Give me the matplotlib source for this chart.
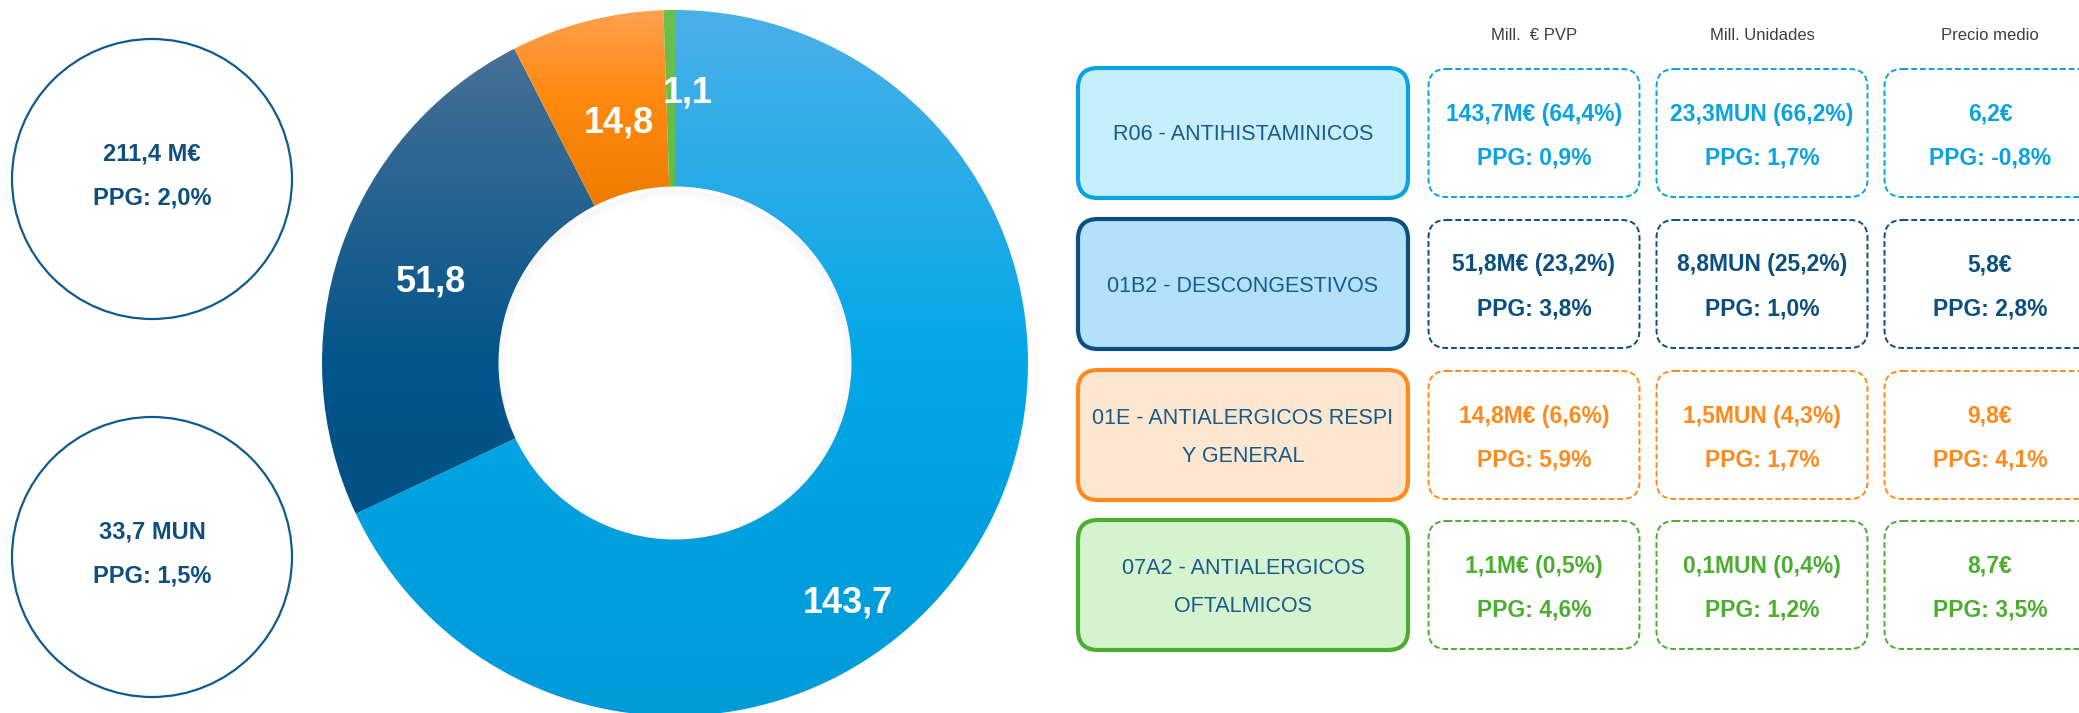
import numpy as np
import matplotlib
matplotlib.use('Agg')
import matplotlib.pyplot as plt
from matplotlib.patches import FancyBboxPatch, Circle
from matplotlib.colors import LinearSegmentedColormap

# data
categories = ['R06 - ANTIHISTAMINICOS', '01B2 - DESCONGESTIVOS',
              '01E - ANTIALERGICOS RESPI\nY GENERAL', '07A2 - ANTIALERGICOS\nOFTALMICOS']
eur = [143.7, 51.8, 14.8, 1.1]
eur_share = [64.4, 23.2, 6.6, 0.5]
eur_ppg = [0.9, 3.8, 5.9, 4.6]
units = [23.3, 8.8, 1.5, 0.1]
units_share = [66.2, 25.2, 4.3, 0.4]
units_ppg = [1.7, 1.0, 1.7, 1.2]
price = [6.2, 5.8, 9.8, 8.7]
price_ppg = [-0.8, 2.8, 4.1, 3.5]
total_eur, total_eur_ppg = 211.4, 2.0
total_units, total_units_ppg = 33.7, 1.5
headers = ['Mill.  € PVP', 'Mill. Unidades', 'Precio medio']

# style
edge_colors = ['#0AA2E0', '#0B4F80', '#FF8A1C', '#4BAE2F']
fill_colors = ['#C6EFFE', '#B3E1FB', '#FDE7D0', '#D6F3D0']
grad_stops = [
    [(0.0, '#009AD9'), (0.5, '#03A7E7'), (1.0, '#4AB0E8')],
    [(0.0, '#004A7E'), (0.5, '#03558B'), (1.0, '#4F7397')],
    [(0.0, '#EC7C00'), (0.74, '#EE7D00'), (0.88, '#FF8A10'), (1.0, '#FFA050')],
    [(0.0, '#44B02F'), (1.0, '#6CC04C')],
]
label_xy = [(0.49, -0.68), (-0.69, 0.23), (-0.16, 0.68), (0.035, 0.765)]
navy = '#0E4F7F'
cat_text = '#175A8B'

plt.rcParams['font.family'] = ['Liberation Sans', 'DejaVu Sans']


def fmt(v):
    return '{:.1f}'.format(v).replace('.', ',')


W, H = 2079, 713
fig = plt.figure(figsize=(W / 100, H / 100), dpi=100)

# donut
cx, cy, R = 675, 363, 353
dax = fig.add_axes([(cx - R) / W, (H - cy - R) / H, 2 * R / W, 2 * R / H])
wedges, _ = dax.pie(eur, startangle=90, counterclock=False, radius=1,
                    wedgeprops=dict(width=0.5, linewidth=0))
grad = np.linspace(0, 1, 256).reshape(-1, 1)
for w, stops in zip(wedges, grad_stops):
    w.set_facecolor('none')
    cmap = LinearSegmentedColormap.from_list('g', stops)
    im = dax.imshow(grad, extent=(-1, 1, -1, 1), origin='lower', cmap=cmap,
                    aspect='auto', zorder=1)
    im.set_clip_path(w)
# faint shadow cast into the hole
for k in range(6):
    dax.add_patch(Circle((0, -0.012), 0.5 - k * 0.004, fill=False,
                         edgecolor='#909090', lw=1.2, alpha=0.06 - k * 0.009, zorder=2))
for v, (lx, ly) in zip(eur, label_xy):
    dax.text(lx, ly, fmt(v), ha='center', va='center', color='white',
             fontsize=26, fontweight='bold', zorder=5)
dax.set_xlim(-1, 1)
dax.set_ylim(-1, 1)
dax.axis('off')

# overlay in pixel coordinates
ax = fig.add_axes([0, 0, 1, 1])
ax.set_xlim(0, W)
ax.set_ylim(H, 0)
ax.axis('off')

# left circles
for (ccy, l1, l2) in [(179, fmt(total_eur) + ' M€', 'PPG: ' + fmt(total_eur_ppg) + '%'),
                      (557, fmt(total_units) + ' MUN', 'PPG: ' + fmt(total_units_ppg) + '%')]:
    ax.add_patch(Circle((152, ccy), 140, fill=False, edgecolor='#0F5B8F', lw=1.6))
    ax.text(152, ccy - 25, l1, ha='center', va='center', color=navy,
            fontsize=17, fontweight='bold')
    ax.text(152, ccy + 19, l2, ha='center', va='center', color=navy,
            fontsize=17, fontweight='bold')

# table
col_x = [1534, 1762, 1990]
box_w, box_h = 211, 130
row_top = [68, 219, 370, 520]
for x, h in zip(col_x, headers):
    ax.text(x, 35, h, ha='center', va='center', color='#3A3F44', fontsize=12)

for i in range(len(categories)):
    top = row_top[i]
    mid = top + box_h / 2
    ax.add_patch(FancyBboxPatch((1078, top), 330, box_h,
                                boxstyle='round,pad=0,rounding_size=20',
                                facecolor=fill_colors[i], edgecolor=edge_colors[i], lw=3))
    lines = categories[i].split('\n')
    if len(lines) == 1:
        ax.text(1243, mid + 2, lines[0], ha='center', va='center', color=cat_text, fontsize=15.5)
    else:
        ax.text(1243, mid - 17, lines[0], ha='center', va='center', color=cat_text, fontsize=15.5)
        ax.text(1243, mid + 22, lines[1], ha='center', va='center', color=cat_text, fontsize=15.5)
    cells = [
        (fmt(eur[i]) + 'M€ (' + fmt(eur_share[i]) + '%)', 'PPG: ' + fmt(eur_ppg[i]) + '%'),
        (fmt(units[i]) + 'MUN (' + fmt(units_share[i]) + '%)', 'PPG: ' + fmt(units_ppg[i]) + '%'),
        (fmt(price[i]) + '€', 'PPG: ' + fmt(price_ppg[i]) + '%'),
    ]
    for x, (t1, t2) in zip(col_x, cells):
        ax.add_patch(FancyBboxPatch((x - box_w / 2, top + 1), box_w, box_h - 2,
                                    boxstyle='round,pad=0,rounding_size=18',
                                    facecolor='white', edgecolor=edge_colors[i], lw=1.4,
                                    linestyle=(0, (3, 1.5))))
        ax.text(x, mid - 19, t1, ha='center', va='center', color=edge_colors[i],
                fontsize=16.5, fontweight='bold')
        ax.text(x, mid + 25, t2, ha='center', va='center', color=edge_colors[i],
                fontsize=16.5, fontweight='bold')

fig.savefig('out.png', dpi=100)
